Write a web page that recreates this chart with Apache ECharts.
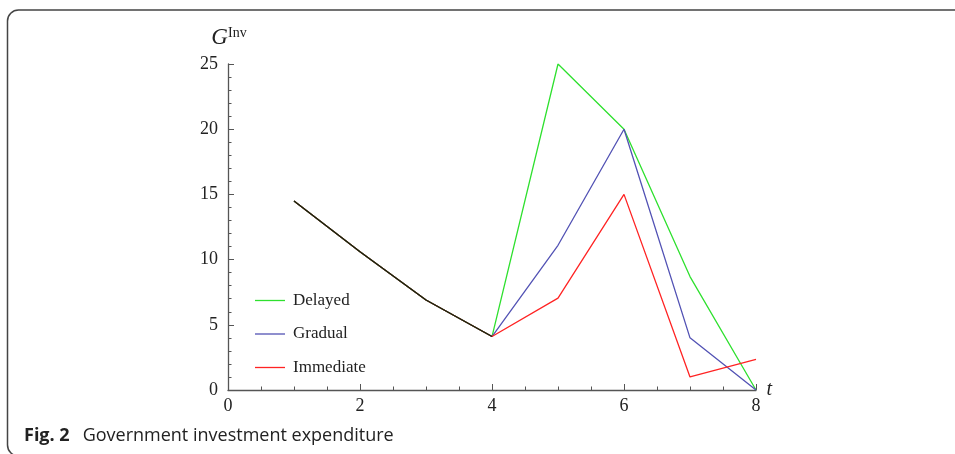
<!DOCTYPE html>
<html><head><meta charset="utf-8">
<script src="https://cdn.jsdelivr.net/npm/echarts@6/dist/echarts.min.js"></script>
<style>html,body{margin:0;padding:0;background:#fff}#c{width:955px;height:454px}</style>
</head><body><div id="c"></div>
<script>
const tVals = [1, 2, 3, 4, 5, 6, 7, 8];
const sharedT = [1, 2, 3, 4];
const delayed = [14.5, 10.6, 6.9, 4.1, 25, 20, 8.7, 0];
const gradual = [14.5, 10.6, 6.9, 4.1, 11.1, 20, 4.0, 0];
const immediate = [14.5, 10.6, 6.9, 4.1, 7.05, 15, 1.0, 2.35];
const shared = [14.5, 10.6, 6.9, 4.1];
const seriesNames = ['Delayed', 'Gradual', 'Immediate'];
const xTicks = [0, 2, 4, 6, 8];
const yTicks = [0, 5, 10, 15, 20, 25];
const caption = ['Fig. 2', 'Government investment expenditure'];

const pair = (xs, ys) => xs.map((x, i) => [x, ys[i]]);
const serif = 'Liberation Serif';
const chart = echarts.init(document.getElementById('c'), null, {renderer: 'canvas'});
const colors = ['#2ee02e', '#5252b4', '#ff2323'];
const axisCommon = {
  axisLine: {lineStyle: {color: '#555', width: 1.3}},
  axisTick: {inside: true, length: 6, lineStyle: {color: '#555'}},
  minorTick: {show: true, length: 3.5, lineStyle: {color: '#555'}},
  splitLine: {show: false},
  axisLabel: {fontFamily: serif, fontSize: 18, color: '#222'}
};
chart.setOption({
  animation: false,
  grid: {left: 228, right: 199, top: 64, bottom: 64},
  xAxis: Object.assign({}, axisCommon, {
    type: 'value', min: xTicks[0], max: xTicks[xTicks.length - 1], interval: 2,
    minorTick: Object.assign({}, axisCommon.minorTick, {splitNumber: 4}),
    axisLabel: Object.assign({}, axisCommon.axisLabel, {margin: 7}),
    name: 't', nameLocation: 'end', nameGap: 8,
    nameTextStyle: {fontFamily: serif, fontStyle: 'italic', fontSize: 20, color: '#222', verticalAlign: 'middle', padding: [0, 0, 4, 0]}
  }),
  yAxis: Object.assign({}, axisCommon, {
    type: 'value', min: yTicks[0], max: yTicks[yTicks.length - 1], interval: 5,
    minorTick: Object.assign({}, axisCommon.minorTick, {splitNumber: 5}),
    axisLabel: Object.assign({}, axisCommon.axisLabel, {margin: 10}),
    name: '{g|G}{s|Inv}', nameLocation: 'end', nameGap: 14,
    nameTextStyle: {
      padding: [0, 0, 0, 2],
      rich: {
        g: {fontFamily: serif, fontStyle: 'italic', fontSize: 23, color: '#222'},
        s: {fontFamily: serif, fontSize: 14, color: '#222', verticalAlign: 'top', padding: [0, 0, 10, 0]}
      }
    }
  }),
  legend: {
    data: seriesNames, orient: 'vertical', left: 250, top: 287, itemGap: 16.5,
    icon: 'rect', itemWidth: 30, itemHeight: 1.3,
    textStyle: {fontFamily: serif, fontSize: 17, color: '#222', padding: [0, 0, 0, 3]}
  },
  series: [
    {name: seriesNames[0], type: 'line', data: pair(tVals, delayed), color: colors[0]},
    {name: seriesNames[1], type: 'line', data: pair(tVals, gradual), color: colors[1]},
    {name: seriesNames[2], type: 'line', data: pair(tVals, immediate), color: colors[2]},
    {name: 'shared', type: 'line', data: pair(sharedT, shared), color: '#0d2a0d', z: 5}
  ].map(s => Object.assign({showSymbol: false, symbol: 'none', lineStyle: {width: 1.3}}, s)),
  graphic: [
    {type: 'rect', shape: {x: 7.5, y: 10, width: 1000, height: 446, r: 11}, style: {fill: 'none', stroke: '#444', lineWidth: 1.5}},
    {type: 'text', x: 24, y: 436, style: {
      text: '{b|' + caption[0] + '}{n|' + caption[1] + '}',
      verticalAlign: 'middle',
      rich: {
        b: {fontFamily: 'Open Sans', fontWeight: 'bold', fontSize: 18, fill: '#222'},
        n: {fontFamily: 'Open Sans', fontSize: 18, fill: '#222', padding: [0, 0, 0, 13]}
      }
    }}
  ]
});
</script></body></html>
